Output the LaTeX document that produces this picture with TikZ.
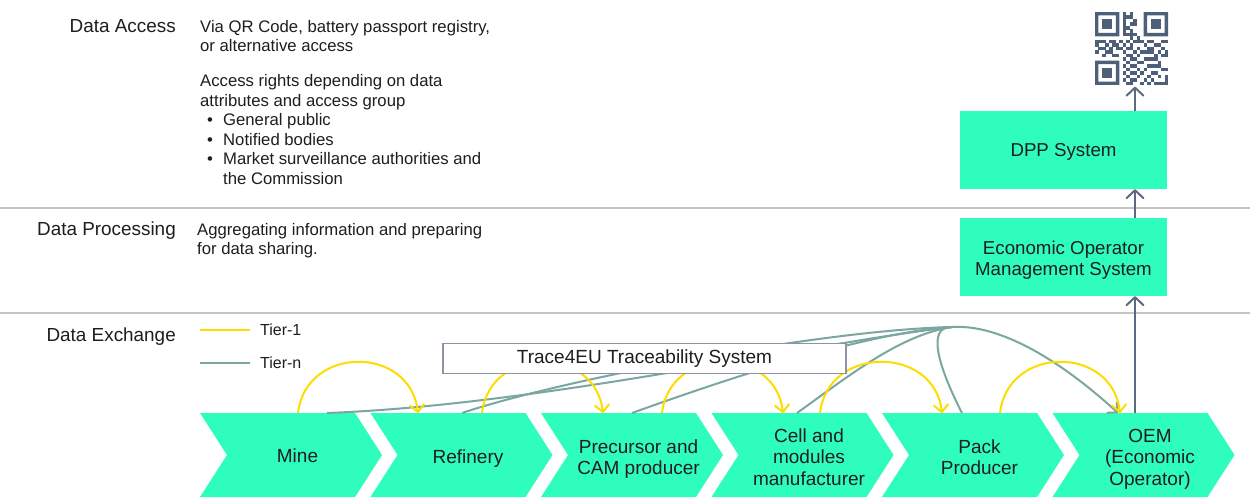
\documentclass[tikz,border=0pt]{standalone}
\usepackage{fontspec}
\setmainfont{Liberation Sans}
\usetikzlibrary{arrows.meta,calc}
\definecolor{mint}{HTML}{2EFDBE}
\definecolor{slate}{HTML}{5A6A82}
\definecolor{qrink}{HTML}{4E6079}
\definecolor{tieryellow}{HTML}{FFDC00}
\definecolor{tierteal}{HTML}{7AA79F}
\definecolor{rulegray}{HTML}{C4C4C4}
\definecolor{ink}{HTML}{1E1E1E}
\definecolor{boxline}{HTML}{8C93A3}

\begin{document}
\begin{tikzpicture}[x=1pt,y=-1pt,
  every node/.style={text=ink},
  lbl/.style={font=\fontsize{18.9}{22}\selectfont, inner sep=0pt},
  desc/.style={font=\fontsize{16.7}{19.5}\selectfont, align=left, inner sep=0pt},
  legendtxt/.style={font=\fontsize{16}{19}\selectfont, inner sep=0pt},
  stagetxt/.style={font=\fontsize{19}{21.5}\selectfont, align=center, inner sep=0pt},
  stagefill/.style={fill=mint},
  sysbox/.style={fill=mint, minimum width=207pt, minimum height=78pt, inner sep=0pt,
    align=center, font=\fontsize{18.7}{21}\selectfont},
  tracebox/.style={draw=boxline, line width=1.3pt, fill=white, minimum width=403pt,
    minimum height=30pt, inner sep=0pt, font=\fontsize{19}{22}\selectfont},
  divider/.style={draw=rulegray, line width=2pt},
  flow/.style={draw=slate, line width=2pt, -{Straight Barb[length=8pt,width=17pt,round]}},
  tierone/.style={draw=tieryellow, line width=2pt},
  tierone arrow/.style={tierone, -{Straight Barb[length=7pt,width=14pt,round]}},
  tiern/.style={draw=tierteal, line width=2pt},
  tiern arrow/.style={tiern, -{Straight Barb[length=7pt,width=14pt,round]}},
]
\fill[white] (0,0) rectangle (1250,498);
\useasboundingbox (0,0) rectangle (1250,498);

% layer dividers
\draw[divider] (0,208) -- (1250,208);
\draw[divider] (0,313) -- (1250,313);

% layer labels
\node[lbl, anchor=base east] (lacc) at (176,32.5) {Data Access};
\node[lbl, anchor=base east] (lproc) at (176,235.5) {Data Processing};
\node[lbl, anchor=base east] (lexch) at (176,341) {Data Exchange};

% layer descriptions (base anchor sits on the last line)
\node[desc, anchor=base west] (dacc1) at (200,51.5) {Via QR Code, battery passport registry,\\or alternative access};
\node[desc, anchor=base west] (dacc2) at (200,184) {Access rights depending on data\\attributes and access group\\
  \hspace*{7pt}\makebox[16pt][l]{\textbullet}General public\\
  \hspace*{7pt}\makebox[16pt][l]{\textbullet}Notified bodies\\
  \hspace*{7pt}\makebox[16pt][l]{\textbullet}Market surveillance authorities and\\
  \hspace*{23pt}the Commission};
\node[desc, anchor=base west] (dproc) at (197,254.5) {Aggregating information and preparing\\for data sharing.};

% legend
\node[legendtxt, anchor=west] (lg1) at (260,330) {Tier-1};
\node[legendtxt, anchor=west] (lg2) at (260,363) {Tier-n};
\draw[tierone] ([xshift=-60pt]lg1.west) -- ([xshift=-10pt]lg1.west);
\draw[tiern] ([xshift=-60pt]lg2.west) -- ([xshift=-10pt]lg2.west);

% QR code
\def\qm{3.476}
\foreach \fx/\fy in {0/0,14/0,0/14}{
  \fill[qrink,even odd rule] (1095+\fx*\qm,12+\fy*\qm) rectangle ++(7*\qm,7*\qm)
     (1095+\fx*\qm+\qm,12+\fy*\qm+\qm) rectangle ++(5*\qm,5*\qm);
  \fill[qrink] (1095+\fx*\qm+2*\qm,12+\fy*\qm+2*\qm) rectangle ++(3*\qm,3*\qm);
}
\foreach \r/\cs in {0/{8,10},1/{8,9,10},2/{8,11},3/{8,10,11},4/{8,9},5/{8,10},6/{8,9,10,11},7/{10,12},
  8/{0,1,2,4,5,7,9,11,12,13,15,16,19,20},9/{0,3,5,6,8,10,14,17,18},10/{1,2,4,6,7,9,10,12,15,16,19},
  11/{0,3,4,8,11,13,14,15,16,18,20},12/{2,5,6,9,10,12,17,19,20},13/{8,10,11,14,15,16,17},
  14/{9,12,13,18},15/{8,10,11,15,16,17,18},16/{9,12,14,19,20},17/{8,10,11,13,16,17},
  18/{9,12,15,18,20},19/{8,10,11,14,16,20},20/{9,10,13,15,17,18,19,20}}{
  \foreach \c in \cs {\fill[qrink] (1095+\c*\qm,12+\r*\qm) rectangle ++(\qm+0.15,\qm+0.15);}
}
\node[inner sep=0pt, minimum size=73pt] (qr) at (1131.5,48.5) {};

% system boxes
\node[sysbox, text depth=0pt] (dpp) at (1063.5,150) {DPP System};
\node[sysbox] (eoms) at (1063.5,257) {\rule{0pt}{19.5pt}Economic Operator\\Management System};

% value chain stages
\foreach \i/\nm/\ty/\txt in {0/mine/456/Mine, 1/refinery/458.5/Refinery, 2/precursor/459/{Precursor and\\CAM producer},
    3/cell/457/{Cell and\\modules\\manufacturer}, 4/pack/457/{Pack\\Producer}, 5/oem/459/{OEM\\(Economic\\Operator)}}{
  \pgfmathsetmacro\xo{200+170.5*\i}
  \fill[stagefill] (\xo,413) -- ++(155,0) -- ++(27,42) -- ++(-27,42) -- ++(-155,0) -- ++(27,-42) -- cycle;
  \coordinate (\nm-top) at (\xo,413);
  \node[stagetxt] (\nm) at (\xo+97.5,\ty) {\txt};
}

% reporting flow up to the passport
\coordinate (oemport) at ([xshift=82.5pt]oem-top);
\draw[flow] (oemport) -- (oemport |- eoms.south);
\draw[flow] (oemport |- eoms.north) -- (oemport |- dpp.south);
\draw[flow] (oemport |- dpp.north) -- ([yshift=-1.5pt]oemport |- qr.south);

% tier-n exchange via the traceability system
\coordinate (hub) at (952,327);
\draw[tiern] ([xshift=127pt]mine-top) .. controls (540,405) and (800,345) .. (hub);
\draw[tiern] ([xshift=91.5pt]refinery-top) .. controls (560,380) and (820,330) .. (hub);
\draw[tiern] ([xshift=91pt]precursor-top) .. controls (710,385) and (860,333) .. (hub);
\draw[tiern] ([xshift=85.5pt]cell-top) .. controls (850,375) and (900,335) .. (hub);
\draw[tiern] ([xshift=80pt]pack-top) .. controls (940,370) and (925,326) .. (hub);
\draw[tiern arrow] (hub) .. controls (1000,324) and (1060,360) .. ([xshift=65.5pt]oem-top);

% tier-1 exchange between neighbours
\draw[tierone arrow] ([xshift=98pt]mine-top) .. controls +(8,-68) and +(-8,-68) .. ([xshift=47.5pt]refinery-top);
\draw[tierone arrow] ([xshift=111.5pt]refinery-top) .. controls +(8,-68) and +(-8,-68) .. ([xshift=62pt]precursor-top);
\draw[tierone arrow] ([xshift=121pt]precursor-top) .. controls +(8,-68) and +(-8,-68) .. ([xshift=71.5pt]cell-top);
\draw[tierone arrow] ([xshift=108.5pt]cell-top) .. controls +(8,-68) and +(-8,-68) .. ([xshift=60pt]pack-top);
\draw[tierone arrow] ([xshift=118pt]pack-top) .. controls +(8,-68) and +(-8,-68) .. ([xshift=67.5pt]oem-top);

% traceability system
\node[tracebox] (trace) at (644.5,358.5) {Trace4EU Traceability System};
\end{tikzpicture}
\end{document}
